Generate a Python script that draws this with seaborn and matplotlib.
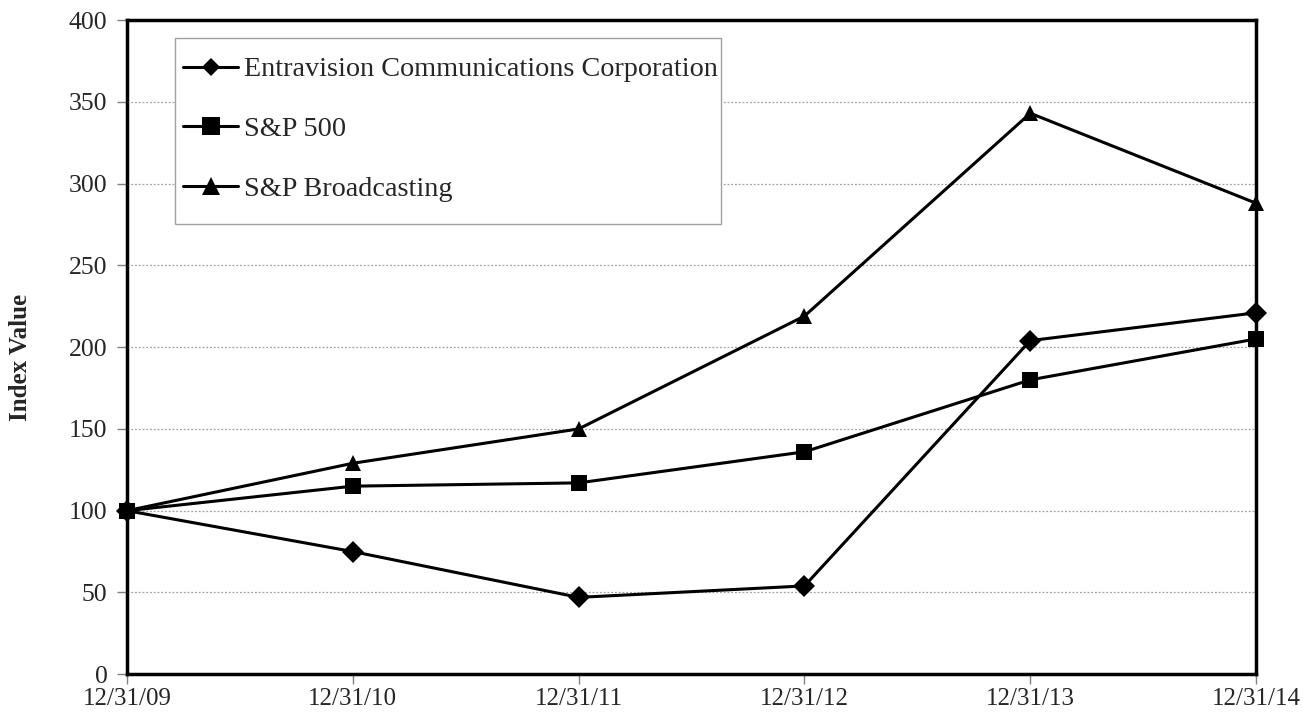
import pandas as pd
import numpy as np
import matplotlib
matplotlib.use('Agg')
import matplotlib.pyplot as plt
from matplotlib.patches import Rectangle
import seaborn as sns

# Values
dates = ['12/31/09', '12/31/10', '12/31/11', '12/31/12', '12/31/13', '12/31/14']
entravision = [100, 75, 47, 54, 204, 221]
sp500 = [100, 115, 117, 136, 180, 205]
sp_broadcasting = [100, 129, 150, 219, 343, 288]

series_names = ['Entravision Communications Corporation', 'S&P 500', 'S&P Broadcasting']

df = pd.DataFrame({
    'date': dates * 3,
    'value': entravision + sp500 + sp_broadcasting,
    'series': [series_names[0]] * 6 + [series_names[1]] * 6 + [series_names[2]] * 6,
})

sns.set_style('white')
plt.rcParams['font.family'] = ['Liberation Serif', 'DejaVu Serif']

fig = plt.figure(figsize=(13.03, 7.15), dpi=100)
ax = fig.add_axes([0.0975, 0.057, 0.8665, 0.915])

# gridlines first so the lines draw over them
ax.set_axisbelow(True)
ax.yaxis.grid(True, linestyle=(0, (1.5, 1.5)), color='#a0a0a0', linewidth=0.9)

sns.lineplot(data=df, x='date', y='value', hue='series', style='series',
             markers={series_names[0]: 'D', series_names[1]: 's', series_names[2]: '^'},
             dashes=False, palette=['black'] * 3, linewidth=2.2,
             markersize=11, markeredgewidth=0, ax=ax, sort=False)

# adjust marker sizes per series, let markers spill over the frame
sizes = {series_names[0]: 9.5, series_names[1]: 13, series_names[2]: 13}
for line in ax.get_lines():
    lab = line.get_label()
    if lab in sizes:
        line.set_markersize(sizes[lab])
    line.set_clip_on(False)

ax.set_xlim(0, 5)
ax.set_ylim(0, 400)
ax.set_yticks(np.arange(0, 401, 50))
ax.set_xlabel('')
ax.set_ylabel('Index Value', fontsize=18, fontweight='bold')
ax.yaxis.set_label_coords(-0.084, 0.485)

ax.tick_params(axis='both', labelsize=18.5, length=7, width=1, color='#808080',
               direction='out', bottom=True, left=True)
ax.tick_params(axis='y', pad=7)
ax.tick_params(axis='x', labelsize=18, pad=3)

for side in ['left', 'right', 'top', 'bottom']:
    ax.spines[side].set_visible(True)
    ax.spines[side].set_color('black')
    ax.spines[side].set_linewidth(2.5)
    ax.spines[side].set_zorder(3)

# legend box
ax.add_patch(Rectangle((0.0425, 0.688), 0.4835, 0.2845, transform=ax.transAxes,
                       facecolor='white', edgecolor='#a0a0a0', linewidth=1.0,
                       zorder=4))

handles, labels = ax.get_legend_handles_labels()
for h in handles:
    h.set_color('black')
    h.set_linewidth(2.2)
    if h.get_label() in sizes:
        h.set_markersize(sizes[h.get_label()])
leg = ax.legend(handles, labels, loc='upper left',
                bbox_to_anchor=(0.0496, 0.944),
                fontsize=20.3, frameon=False,
                handlelength=1.95, handletextpad=0.2, labelspacing=1.2,
                borderpad=0, borderaxespad=0)
leg.set_zorder(5)

fig.savefig('out.png', dpi=100)
